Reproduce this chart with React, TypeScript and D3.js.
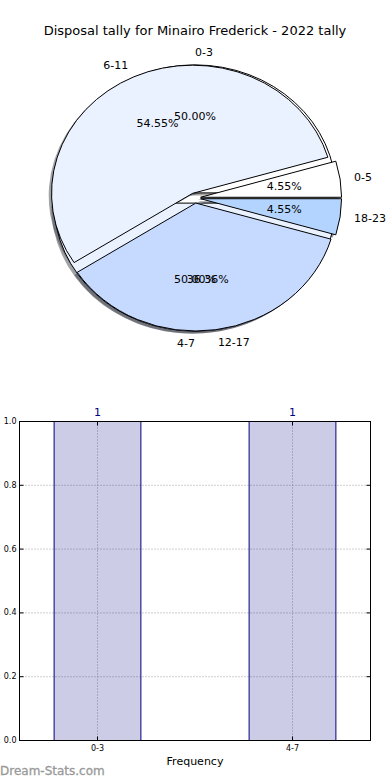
import React, { useEffect, useRef } from 'react';
import * as d3 from 'd3';

const chartTitle = 'Disposal tally for Minairo Frederick - 2022 tally';

// inner pie (drawn first) and hour-group pie (drawn on top)
const quarterGroups = ['0-3', '4-7'];
const quarterCounts = [1, 1];
const hourGroups = ['0-5', '6-11', '12-17', '18-23'];
const hourCounts = [1, 12, 8, 1];
const wedgeColors = ['#ffffff', '#eaf1ff', '#c6d9ff', '#b3d4ff'];

const barCategories = ['0-3', '4-7'];
const barCounts = [1, 1];
const yTicks = [0, 0.2, 0.4, 0.6, 0.8, 1.0];

const cx = 195, cy = 198, rx = 141, ry = 128;
const explode = 0.04;

function App() {
  const ref = useRef<SVGSVGElement>(null);

  useEffect(() => {
    const svg = d3.select(ref.current);
    svg.selectAll('*').remove();
    const font = '"DejaVu Sans", sans-serif';

    svg.append('text')
      .attr('x', 195).attr('y', 30)
      .attr('text-anchor', 'middle').attr('dominant-baseline', 'central')
      .attr('font-family', font).attr('font-size', 13)
      .text(chartTitle);

    // matplotlib-like pie: start at 3 o'clock, counter clockwise, elliptical axes
    const pie = d3.pie<number>().sort(null)
      .startAngle(Math.PI / 2).endAngle(Math.PI / 2 - 2 * Math.PI);
    const arc = d3.arc<d3.PieArcDatum<number>>().innerRadius(0).outerRadius(1);

    const build = (values: number[], labels: string[]) => {
      const total = d3.sum(values);
      return pie(values).map((p, i) => {
        const mid = Math.PI / 2 - (p.startAngle + p.endAngle) / 2;
        const ox = explode * Math.cos(mid);
        const oy = -explode * Math.sin(mid);
        return { p, i, mid, ox, oy, label: labels[i], pct: (values[i] / total * 100).toFixed(2) + '%' };
      });
    };
    const pies = [build(quarterCounts, quarterGroups), build(hourCounts, hourGroups)];

    const shadows = svg.append('g');
    const wedgesG = svg.append('g');
    const textsG = svg.append('g');

    pies.forEach(ws => {
      ws.forEach(w => {
        const col = d3.rgb(wedgeColors[w.i]);
        shadows.append('path')
          .attr('transform', `translate(${cx + rx * (w.ox - 0.02)},${cy + ry * (w.oy + 0.02)}) scale(${rx},${ry})`)
          .attr('d', arc(w.p) as string)
          .attr('fill', d3.rgb(col.r * 0.3, col.g * 0.3, col.b * 0.3).toString())
          .attr('fill-opacity', 0.5);
      });
    });

    pies.forEach(ws => {
      ws.forEach(w => {
        wedgesG.append('path')
          .attr('transform', `translate(${cx + rx * w.ox},${cy + ry * w.oy}) scale(${rx},${ry})`)
          .attr('d', arc(w.p) as string)
          .attr('fill', wedgeColors[w.i])
          .attr('stroke', '#000')
          .attr('stroke-width', 1)
          .attr('vector-effect', 'non-scaling-stroke')
          .attr('stroke-linejoin', 'round');
      });
    });

    pies.forEach(ws => {
      ws.forEach(w => {
        const lx = w.ox + 1.1 * Math.cos(w.mid);
        const ly = w.oy - 1.1 * Math.sin(w.mid);
        textsG.append('text')
          .attr('x', cx + rx * lx).attr('y', cy + ry * ly)
          .attr('text-anchor', lx > 0 ? 'start' : 'end')
          .attr('dominant-baseline', 'central')
          .attr('font-family', font).attr('font-size', 11)
          .text(w.label);
        const px = w.ox + 0.6 * Math.cos(w.mid);
        const py = w.oy - 0.6 * Math.sin(w.mid);
        textsG.append('text')
          .attr('x', cx + rx * px).attr('y', cy + ry * py)
          .attr('text-anchor', 'middle')
          .attr('dominant-baseline', 'central')
          .attr('font-family', font).attr('font-size', 11)
          .text(w.pct);
      });
    });

    // bar chart
    const x = d3.scaleLinear().domain([-0.4, 1.4]).range([19.5, 370.5]);
    const y = d3.scaleLinear().domain([0, 1]).range([740.5, 421.5]);
    const [x0, x1] = x.range();
    const [y0, y1] = y.range();
    const g = svg.append('g');

    const gridColor = '#a0a0a0';
    yTicks.forEach(t => {
      g.append('line')
        .attr('x1', x0).attr('x2', x1).attr('y1', y(t)).attr('y2', y(t))
        .attr('stroke', gridColor).attr('stroke-dasharray', '1,2');
    });
    barCategories.forEach((c, i) => {
      g.append('line')
        .attr('x1', x(i)).attr('x2', x(i)).attr('y1', y0).attr('y2', y1)
        .attr('stroke', gridColor).attr('stroke-dasharray', '1,2');
    });

    const bw = 0.445;
    g.selectAll('.bar')
      .data(barCounts)
      .enter().append('rect')
      .attr('class', 'bar')
      .attr('x', (d, i) => x(i - bw / 2))
      .attr('y', d => y(d))
      .attr('width', x(bw) - x(0))
      .attr('height', d => y(0) - y(d))
      .attr('fill', 'navy').attr('fill-opacity', 0.2)
      .attr('stroke', 'navy').attr('stroke-width', 1);

    g.selectAll('.val')
      .data(barCounts)
      .enter().append('text')
      .attr('x', (d, i) => x(i))
      .attr('y', d => y(d) - 9)
      .attr('text-anchor', 'middle').attr('dominant-baseline', 'central')
      .attr('font-family', font).attr('font-size', 11)
      .attr('fill', 'navy')
      .text(d => String(d));

    g.append('rect')
      .attr('x', x0).attr('y', y1).attr('width', x1 - x0).attr('height', y0 - y1)
      .attr('fill', 'none').attr('stroke', '#000').attr('stroke-width', 1);

    yTicks.forEach(t => {
      g.append('line').attr('x1', x0).attr('x2', x0 + 4).attr('y1', y(t)).attr('y2', y(t)).attr('stroke', '#000');
      g.append('line').attr('x1', x1 - 4).attr('x2', x1).attr('y1', y(t)).attr('y2', y(t)).attr('stroke', '#000');
      g.append('text')
        .attr('x', x0 - 3).attr('y', y(t))
        .attr('text-anchor', 'end').attr('dominant-baseline', 'central')
        .attr('font-family', font).attr('font-size', 8)
        .text(t.toFixed(1));
    });
    barCategories.forEach((c, i) => {
      g.append('line').attr('x1', x(i)).attr('x2', x(i)).attr('y1', y0).attr('y2', y0 - 4).attr('stroke', '#000');
      g.append('line').attr('x1', x(i)).attr('x2', x(i)).attr('y1', y1).attr('y2', y1 + 4).attr('stroke', '#000');
      g.append('text')
        .attr('x', x(i)).attr('y', y0 + 8)
        .attr('text-anchor', 'middle').attr('dominant-baseline', 'central')
        .attr('font-family', font).attr('font-size', 8)
        .text(c);
    });

    g.append('text')
      .attr('x', (x0 + x1) / 2).attr('y', 761)
      .attr('text-anchor', 'middle').attr('dominant-baseline', 'central')
      .attr('font-family', font).attr('font-size', 11)
      .text('Frequency');

    svg.append('text')
      .attr('x', 0).attr('y', 771)
      .attr('dominant-baseline', 'central')
      .attr('font-family', font).attr('font-size', 12)
      .attr('fill', '#999').attr('stroke', '#999').attr('stroke-width', 0.3)
      .text('Dream-Stats.com');
  }, []);

  return (
    <svg ref={ref} width="390" height="780"
      style={{ position: 'absolute', left: 0, top: 0, background: '#fff' }} />
  );
}

export default App;
